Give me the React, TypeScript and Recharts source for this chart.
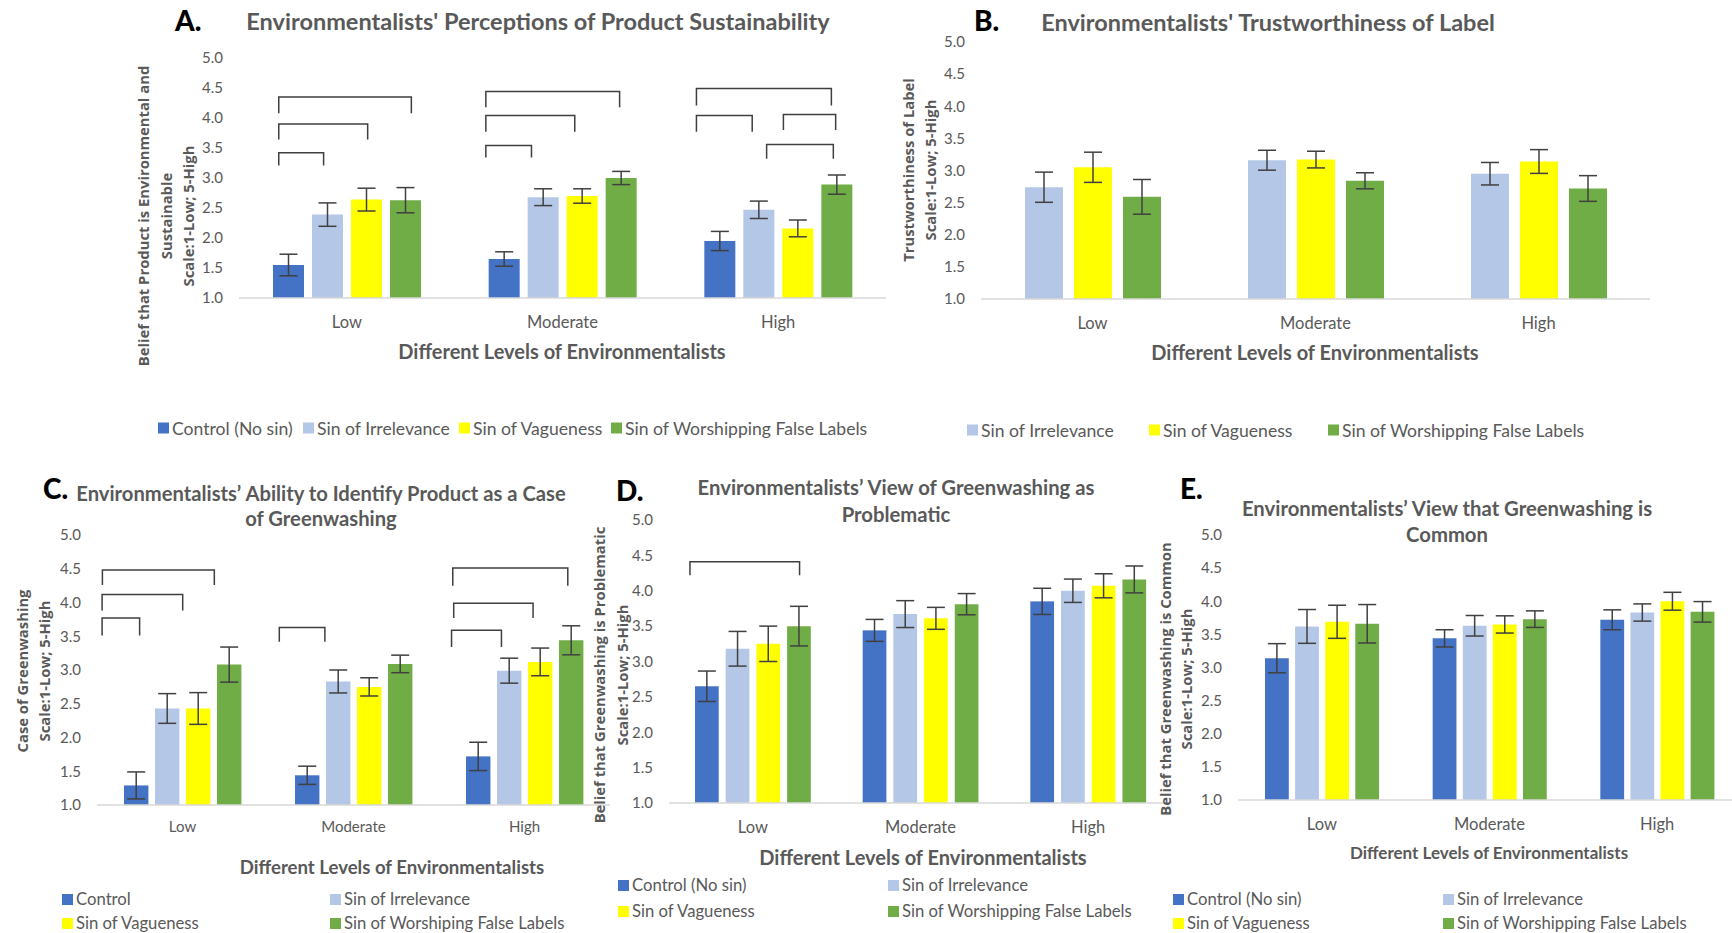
import React from "react";
import { BarChart, Bar, XAxis, YAxis, ErrorBar } from "recharts";

const levels = ["Low", "Moderate", "High"];
const yTicks = [1.0, 1.5, 2.0, 2.5, 3.0, 3.5, 4.0, 4.5, 5.0];

// A. perceptions of product sustainability
const aControl = [1.55, 1.65, 1.95];
const aControlErr = [0.18, 0.12, 0.16];
const aIrrelevance = [2.39, 2.68, 2.47];
const aIrrelevanceErr = [0.195, 0.14, 0.145];
const aVagueness = [2.64, 2.7, 2.16];
const aVaguenessErr = [0.19, 0.12, 0.14];
const aWorship = [2.63, 3.0, 2.89];
const aWorshipErr = [0.21, 0.11, 0.16];

// B. trustworthiness of label
const bIrrelevance = [2.74, 3.16, 2.95];
const bIrrelevanceErr = [0.235, 0.155, 0.175];
const bVagueness = [3.05, 3.17, 3.14];
const bVaguenessErr = [0.235, 0.13, 0.185];
const bWorship = [2.59, 2.84, 2.72];
const bWorshipErr = [0.27, 0.125, 0.2];

// C. identify product as greenwashing
const cControl = [1.29, 1.44, 1.72];
const cControlErr = [0.2, 0.135, 0.21];
const cIrrelevance = [2.43, 2.83, 2.99];
const cIrrelevanceErr = [0.22, 0.17, 0.185];
const cVagueness = [2.43, 2.75, 3.12];
const cVaguenessErr = [0.235, 0.135, 0.205];
const cWorship = [3.08, 3.09, 3.44];
const cWorshipErr = [0.26, 0.13, 0.215];

// D. greenwashing as problematic
const dControl = [2.65, 3.44, 3.85];
const dControlErr = [0.215, 0.155, 0.185];
const dIrrelevance = [3.18, 3.67, 4.0];
const dIrrelevanceErr = [0.245, 0.19, 0.165];
const dVagueness = [3.25, 3.61, 4.07];
const dVaguenessErr = [0.25, 0.155, 0.17];
const dWorship = [3.5, 3.81, 4.16];
const dWorshipErr = [0.28, 0.15, 0.19];

// E. greenwashing is common
const eControl = [3.14, 3.44, 3.72];
const eControlErr = [0.22, 0.13, 0.15];
const eIrrelevance = [3.62, 3.63, 3.83];
const eIrrelevanceErr = [0.255, 0.155, 0.13];
const eVagueness = [3.69, 3.65, 4.0];
const eVaguenessErr = [0.25, 0.13, 0.135];
const eWorship = [3.66, 3.73, 3.84];
const eWorshipErr = [0.29, 0.125, 0.155];

// significance brackets: level, from/to in bar slots (0 = first bar), top and foot in data units
type Bracket = { level: string; from: number; to: number; top: number; foot: number };

const aBrackets: Bracket[] = [
  { level: "Low", from: -0.25, to: 3.15, top: 4.35, foot: 4.08 },
  { level: "Low", from: -0.25, to: 2.03, top: 3.9, foot: 3.64 },
  { level: "Low", from: -0.25, to: 0.9, top: 3.42, foot: 3.21 },
  { level: "Moderate", from: -0.47, to: 2.96, top: 4.44, foot: 4.18 },
  { level: "Moderate", from: -0.47, to: 1.81, top: 4.04, foot: 3.77 },
  { level: "Moderate", from: -0.47, to: 0.7, top: 3.54, foot: 3.34 },
  { level: "High", from: -0.6, to: 2.86, top: 4.49, foot: 4.21 },
  { level: "High", from: -0.6, to: 0.83, top: 4.04, foot: 3.77 },
  { level: "High", from: 1.63, to: 2.97, top: 4.06, foot: 3.8 },
  { level: "High", from: 1.2, to: 2.91, top: 3.56, foot: 3.32 },
];

const cBrackets: Bracket[] = [
  { level: "Low", from: -1.09, to: 2.52, top: 4.48, foot: 4.26 },
  { level: "Low", from: -1.1, to: 1.5, top: 4.12, foot: 3.88 },
  { level: "Low", from: -1.1, to: 0.11, top: 3.77, foot: 3.51 },
  { level: "Moderate", from: -0.9, to: 0.57, top: 3.63, foot: 3.42 },
  { level: "High", from: -0.82, to: 2.89, top: 4.51, foot: 4.25 },
  { level: "High", from: -0.79, to: 1.77, top: 3.99, foot: 3.77 },
  { level: "High", from: -0.86, to: 0.75, top: 3.59, foot: 3.34 },
];

const dBrackets: Bracket[] = [{ level: "Low", from: -0.55, to: 3.02, top: 4.41, foot: 4.22 }];

const BLUE = "#4472C4";
const LIGHT = "#B4C7E7";
const YELLOW = "#FFFF00";
const GREEN = "#70AD47";
const GREY = "#595959";
const FONT = "Lato, 'Open Sans', sans-serif";

type Series = { key: string; name: string; color: string; values: number[]; errors: number[] };

function buildRows(series: Series[]) {
  return levels.map((level, i) => {
    const row: Record<string, any> = { level };
    series.forEach((s) => {
      row[s.key] = s.values[i];
      row[s.key + "Err"] = s.errors[i];
    });
    return row;
  });
}

// draws the first bar of each group, plus that group's brackets, using the bar's own geometry
function bracketShape(key: string, brackets: Bracket[], gap: number) {
  return (props: any) => {
    const { x, y, width, height, fill, payload } = props;
    const v = payload[key];
    const base = y + height;
    const k = height / (v - 1);
    const yAt = (t: number) => base - (t - 1) * k;
    const cx = x + width / 2;
    const pitch = width + gap;
    return (
      <g>
        <rect x={x} y={y} width={width} height={height} fill={fill} />
        {brackets
          .filter((b) => b.level === payload.level)
          .map((b, i) => {
            const x1 = cx + b.from * pitch;
            const x2 = cx + b.to * pitch;
            return (
              <path
                key={i}
                d={`M${x1},${yAt(b.foot)}V${yAt(b.top)}H${x2}V${yAt(b.foot)}`}
                fill="none"
                stroke="#3f3f3f"
                strokeWidth={1.5}
              />
            );
          })}
      </g>
    );
  };
}

interface PanelProps {
  plotLeft: number;
  plotTop: number;
  plotW: number;
  plotH: number;
  series: Series[];
  barSize: number;
  barGap: number;
  brackets?: Bracket[];
  xTickSize: number;
  yTickSize: number;
  xTickMargin: number;
}

function Panel({ plotLeft, plotTop, plotW, plotH, series, barSize, barGap, brackets, xTickSize, yTickSize, xTickMargin }: PanelProps) {
  const yW = 60;
  const rows = buildRows(series);
  return (
    <div style={{ position: "absolute", left: plotLeft - yW, top: plotTop - 10 }}>
      <BarChart
        width={yW + plotW + 5}
        height={10 + plotH + 40}
        data={rows}
        margin={{ top: 10, right: 5, bottom: 0, left: 0 }}
        barGap={barGap}
      >
        <XAxis
          dataKey="level"
          interval={0}
          height={40}
          axisLine={{ stroke: "#D9D9D9", strokeWidth: 1.5 }}
          tickLine={false}
          tickMargin={xTickMargin}
          tick={{ fill: GREY, fontSize: xTickSize, fontFamily: FONT }}
        />
        <YAxis
          type="number"
          domain={[1, 5]}
          ticks={yTicks}
          width={yW}
          axisLine={false}
          tickLine={false}
          tickMargin={10}
          tickFormatter={(v: number) => v.toFixed(1)}
          tick={{ fill: GREY, fontSize: yTickSize, fontFamily: FONT }}
        />
        {series.map((s, i) => (
          <Bar
            key={s.key}
            dataKey={s.key}
            name={s.name}
            fill={s.color}
            barSize={barSize}
            isAnimationActive={false}
            shape={i === 0 && brackets ? bracketShape(s.key, brackets, barGap) : undefined}
          >
            <ErrorBar dataKey={s.key + "Err"} width={9} stroke="#404040" strokeWidth={1.5} direction="y" isAnimationActive={false} />
          </Bar>
        ))}
      </BarChart>
    </div>
  );
}

const boldText: React.CSSProperties = { fontFamily: FONT, fontWeight: 700, color: GREY, whiteSpace: "nowrap" };

function Centered({ x, y, size, children, style }: { x: number; y: number; size: number; children: React.ReactNode; style?: React.CSSProperties }) {
  return (
    <div
      style={{
        position: "absolute",
        left: x,
        top: y,
        transform: "translate(-50%, -50%)",
        fontSize: size,
        lineHeight: 1.2,
        textAlign: "center",
        ...boldText,
        ...style,
      }}
    >
      {children}
    </div>
  );
}

function Letter({ x, y, children }: { x: number; y: number; children: React.ReactNode }) {
  return (
    <div
      style={{
        position: "absolute",
        left: x,
        top: y,
        transform: "translateY(-50%)",
        fontFamily: FONT,
        fontWeight: 900,
        fontSize: 28,
        lineHeight: 1,
        color: "#000",
      }}
    >
      {children}
    </div>
  );
}

function YTitle({ x, y, lines, gap }: { x: number; y: number; lines: string[]; gap: number }) {
  return (
    <div
      style={{
        position: "absolute",
        left: x,
        top: y,
        transform: "translate(-50%, -50%) rotate(-90deg)",
        fontFamily: "'Open Sans', sans-serif",
        fontWeight: 700,
        fontSize: 14.8,
        lineHeight: `${gap}px`,
        color: GREY,
        textAlign: "center",
        whiteSpace: "nowrap",
      }}
    >
      {lines.map((l) => (
        <div key={l}>{l}</div>
      ))}
    </div>
  );
}

function LegendItem({ x, y, name, color, size }: { x: number; y: number; name: string; color: string; size: number }) {
  return (
    <div
      style={{
        position: "absolute",
        left: x,
        top: y,
        transform: "translateY(-50%)",
        display: "flex",
        alignItems: "center",
        whiteSpace: "nowrap",
        fontFamily: FONT,
        fontSize: size,
        color: GREY,
      }}
    >
      <span style={{ display: "inline-block", width: 11, height: 11, background: color, marginRight: 3 }} />
      {name}
    </div>
  );
}

const aSeries: Series[] = [
  { key: "control", name: "Control (No sin)", color: BLUE, values: aControl, errors: aControlErr },
  { key: "irrelevance", name: "Sin of Irrelevance", color: LIGHT, values: aIrrelevance, errors: aIrrelevanceErr },
  { key: "vagueness", name: "Sin of Vagueness", color: YELLOW, values: aVagueness, errors: aVaguenessErr },
  { key: "worship", name: "Sin of Worshipping False Labels", color: GREEN, values: aWorship, errors: aWorshipErr },
];
const bSeries: Series[] = [
  { key: "irrelevance", name: "Sin of Irrelevance", color: LIGHT, values: bIrrelevance, errors: bIrrelevanceErr },
  { key: "vagueness", name: "Sin of Vagueness", color: YELLOW, values: bVagueness, errors: bVaguenessErr },
  { key: "worship", name: "Sin of Worshipping False Labels", color: GREEN, values: bWorship, errors: bWorshipErr },
];
const cSeries: Series[] = [
  { key: "control", name: "Control", color: BLUE, values: cControl, errors: cControlErr },
  { key: "irrelevance", name: "Sin of Irrelevance", color: LIGHT, values: cIrrelevance, errors: cIrrelevanceErr },
  { key: "vagueness", name: "Sin of Vagueness", color: YELLOW, values: cVagueness, errors: cVaguenessErr },
  { key: "worship", name: "Sin of Worshiping False Labels", color: GREEN, values: cWorship, errors: cWorshipErr },
];
const dSeries: Series[] = [
  { key: "control", name: "Control (No sin)", color: BLUE, values: dControl, errors: dControlErr },
  { key: "irrelevance", name: "Sin of Irrelevance", color: LIGHT, values: dIrrelevance, errors: dIrrelevanceErr },
  { key: "vagueness", name: "Sin of Vagueness", color: YELLOW, values: dVagueness, errors: dVaguenessErr },
  { key: "worship", name: "Sin of Worshipping False Labels", color: GREEN, values: dWorship, errors: dWorshipErr },
];
const eSeries: Series[] = [
  { key: "control", name: "Control (No sin)", color: BLUE, values: eControl, errors: eControlErr },
  { key: "irrelevance", name: "Sin of Irrelevance", color: LIGHT, values: eIrrelevance, errors: eIrrelevanceErr },
  { key: "vagueness", name: "Sin of Vagueness", color: YELLOW, values: eVagueness, errors: eVaguenessErr },
  { key: "worship", name: "Sin of Worshipping False Labels", color: GREEN, values: eWorship, errors: eWorshipErr },
];

const xTitle = "Different Levels of Environmentalists";
const scaleLine = "Scale:1-Low; 5-High";

export default function App() {
  return (
    <div style={{ position: "absolute", left: 0, top: 0, width: 1732, height: 933, overflow: "hidden", background: "#fff" }}>
      {/* A */}
      <Panel plotLeft={239} plotTop={58} plotW={647} plotH={240} series={aSeries} barSize={31} barGap={8} brackets={aBrackets} xTickSize={16.5} yTickSize={15} xTickMargin={12} />
      <Letter x={175} y={20}>A.</Letter>
      <Centered x={538} y={21} size={23.5}>Environmentalists' Perceptions of Product Sustainability</Centered>
      <YTitle x={166} y={216} gap={22.7} lines={["Belief that Product is Environmental and", "Sustainable", scaleLine]} />
      <Centered x={562} y={351} size={20}>{xTitle}</Centered>
      {aSeries.map((s, i) => (
        <LegendItem key={s.key} x={[158, 303, 459, 611][i]} y={428} name={s.name} color={s.color} size={17.6} />
      ))}

      {/* B */}
      <Panel plotLeft={981} plotTop={42} plotW={669} plotH={257} series={bSeries} barSize={38} barGap={11} xTickSize={16.5} yTickSize={15} xTickMargin={12.6} />
      <Letter x={974} y={20}>B.</Letter>
      <Centered x={1268} y={22} size={23.5}>Environmentalists' Trustworthiness of Label</Centered>
      <YTitle x={919} y={170} gap={22} lines={["Trustworthiness of Label", scaleLine]} />
      <Centered x={1315} y={352} size={20}>{xTitle}</Centered>
      {bSeries.map((s, i) => (
        <LegendItem key={s.key} x={[967, 1149, 1328][i]} y={430} name={s.name} color={s.color} size={17.6} />
      ))}

      {/* C */}
      <Panel plotLeft={97} plotTop={535} plotW={513} plotH={270} series={cSeries} barSize={24.4} barGap={6.6} brackets={cBrackets} xTickSize={15} yTickSize={15} xTickMargin={10} />
      <Letter x={43} y={488}>C.</Letter>
      <Centered x={321} y={506} size={20.2} style={{ lineHeight: "25px" }}>
        <div>Environmentalists’ Ability to Identify Product as a Case</div>
        <div>of Greenwashing</div>
      </Centered>
      <YTitle x={33} y={671} gap={22.4} lines={["Case of Greenwashing", scaleLine]} />
      <Centered x={392} y={867} size={18.6}>{xTitle}</Centered>
      {cSeries.map((s, i) => (
        <LegendItem key={s.key} x={[62, 330][i % 2]} y={[899, 923][Math.floor(i / 2)]} name={s.name} color={s.color} size={16.7} />
      ))}

      {/* D */}
      <Panel plotLeft={669} plotTop={520} plotW={503} plotH={283} series={dSeries} barSize={23.7} barGap={7} brackets={dBrackets} xTickSize={16.5} yTickSize={15} xTickMargin={12.6} />
      <Letter x={616} y={490}>D.</Letter>
      <Centered x={896} y={501} size={20.3} style={{ lineHeight: "26.6px" }}>
        <div>Environmentalists’ View of Greenwashing as</div>
        <div>Problematic</div>
      </Centered>
      <YTitle x={611} y={675} gap={22.6} lines={["Belief that Greenwashing is Problematic", scaleLine]} />
      <Centered x={923} y={857} size={20}>{xTitle}</Centered>
      {dSeries.map((s, i) => (
        <LegendItem key={s.key} x={[618, 888][i % 2]} y={[885, 911][Math.floor(i / 2)]} name={s.name} color={s.color} size={16.7} />
      ))}

      {/* E */}
      <Panel plotLeft={1238} plotTop={535} plotW={503} plotH={265} series={eSeries} barSize={23.8} barGap={6.3} xTickSize={16.5} yTickSize={15} xTickMargin={12} />
      <Letter x={1180} y={488}>E.</Letter>
      <Centered x={1447} y={521.5} size={20.3} style={{ lineHeight: "26.7px" }}>
        <div>Environmentalists’ View that Greenwashing is</div>
        <div>Common</div>
      </Centered>
      <YTitle x={1176} y={679} gap={21.4} lines={["Belief that Greenwashing is Common", scaleLine]} />
      <Centered x={1489} y={853} size={17}>{xTitle}</Centered>
      {eSeries.map((s, i) => (
        <LegendItem key={s.key} x={[1173, 1443][i % 2]} y={[899, 923][Math.floor(i / 2)]} name={s.name} color={s.color} size={16.7} />
      ))}
    </div>
  );
}
